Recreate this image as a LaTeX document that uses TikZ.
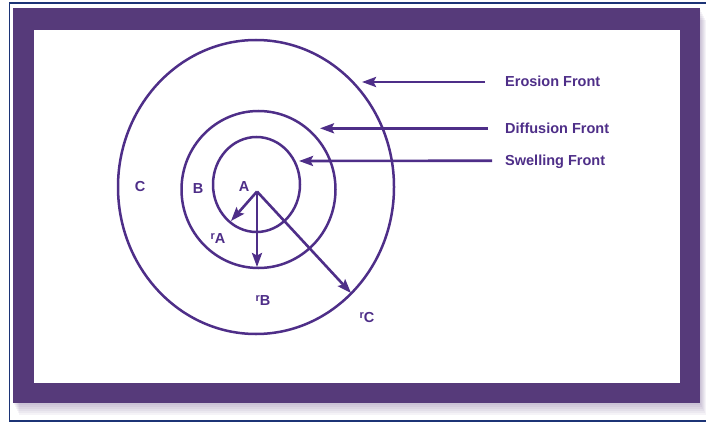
\documentclass[tikz,border=0pt]{standalone}
\usepackage{fontspec}
\setmainfont{Liberation Sans}
\usetikzlibrary{arrows.meta,shapes.geometric}
\definecolor{framec}{RGB}{86,58,122}
\definecolor{inkc}{RGB}{78,46,136}
\definecolor{navyc}{RGB}{28,52,118}
\begin{document}
\begin{tikzpicture}[x=1pt,y=-1pt,
  ring/.style={draw=inkc, line width=2.5pt, ellipse, inner sep=0pt, outer sep=0pt},
  arr/.style={draw=inkc, line width=2.6pt, -{Stealth[length=14pt,width=10pt,inset=2.5pt]}},
  lab/.style={text=inkc, font=\fontsize{14.5}{16}\selectfont\bfseries, inner sep=0pt},
  front/.style={text=inkc, font=\fontsize{14.5}{16}\selectfont\bfseries, anchor=base west, inner sep=0pt}]
\useasboundingbox (0,0) rectangle (706,425);
% frame
\foreach \i in {1,...,6} \fill[framec, opacity=0.06] (13+\i,8+2*\i) rectangle (700+\i,403+2*\i);
\draw[navyc, line width=1.4pt] (9.5,3) rectangle (712,421);
\fill[framec] (13,8) rectangle (700,403);
\fill[white] (34,30) rectangle (680,383);
% rings
\node[ring, minimum width=276pt, minimum height=294pt] (outer) at (256,187) {};
\node[ring, minimum width=154pt, minimum height=157pt] (middle) at (258.5,189.5) {};
\node[ring, minimum width=87pt, minimum height=95pt] (inner) at (256.5,184.5) {};
% region labels
\node[lab] (C) at (140,187) {C};
\node[lab] (B) at (198,189) {B};
\node[lab] (A) at (244,187) {A};
% radii
\coordinate (ctr) at (257,191.5);
\coordinate (tA) at (231,221);
\coordinate (tB) at (257,267);
\coordinate (tC) at (351,293);
\draw[arr] (ctr) -- (tA);
\draw[arr] (ctr) -- (tB);
\draw[arr] (ctr) -- (tC);
\node[lab] (rA) at (218,239) {\raisebox{4pt}{\fontsize{11}{11}\selectfont r}A};
\node[lab] (rB) at (263,301) {\raisebox{4pt}{\fontsize{11}{11}\selectfont r}B};
\node[lab] (rC) at (367,318) {\raisebox{4pt}{\fontsize{11}{11}\selectfont r}C};
% fronts
\node[front] (ero) at (505,87) {Erosion Front};
\node[front] (dif) at (505,133.3) {Diffusion Front};
\node[front] (swe) at (505,165.7) {Swelling Front};
\coordinate (eTip) at (362,82);
\coordinate (dTip) at (320,128.3);
\coordinate (sTip) at (299,161);
\draw[arr] ([shift={(-20,-5)}]ero.base west) -- (eTip);
\draw[arr] ([shift={(-17,-5)}]dif.base west) -- (dTip);
\draw[arr] ([shift={(-13,-5)}]swe.base west) -- (sTip);
\end{tikzpicture}
\end{document}
